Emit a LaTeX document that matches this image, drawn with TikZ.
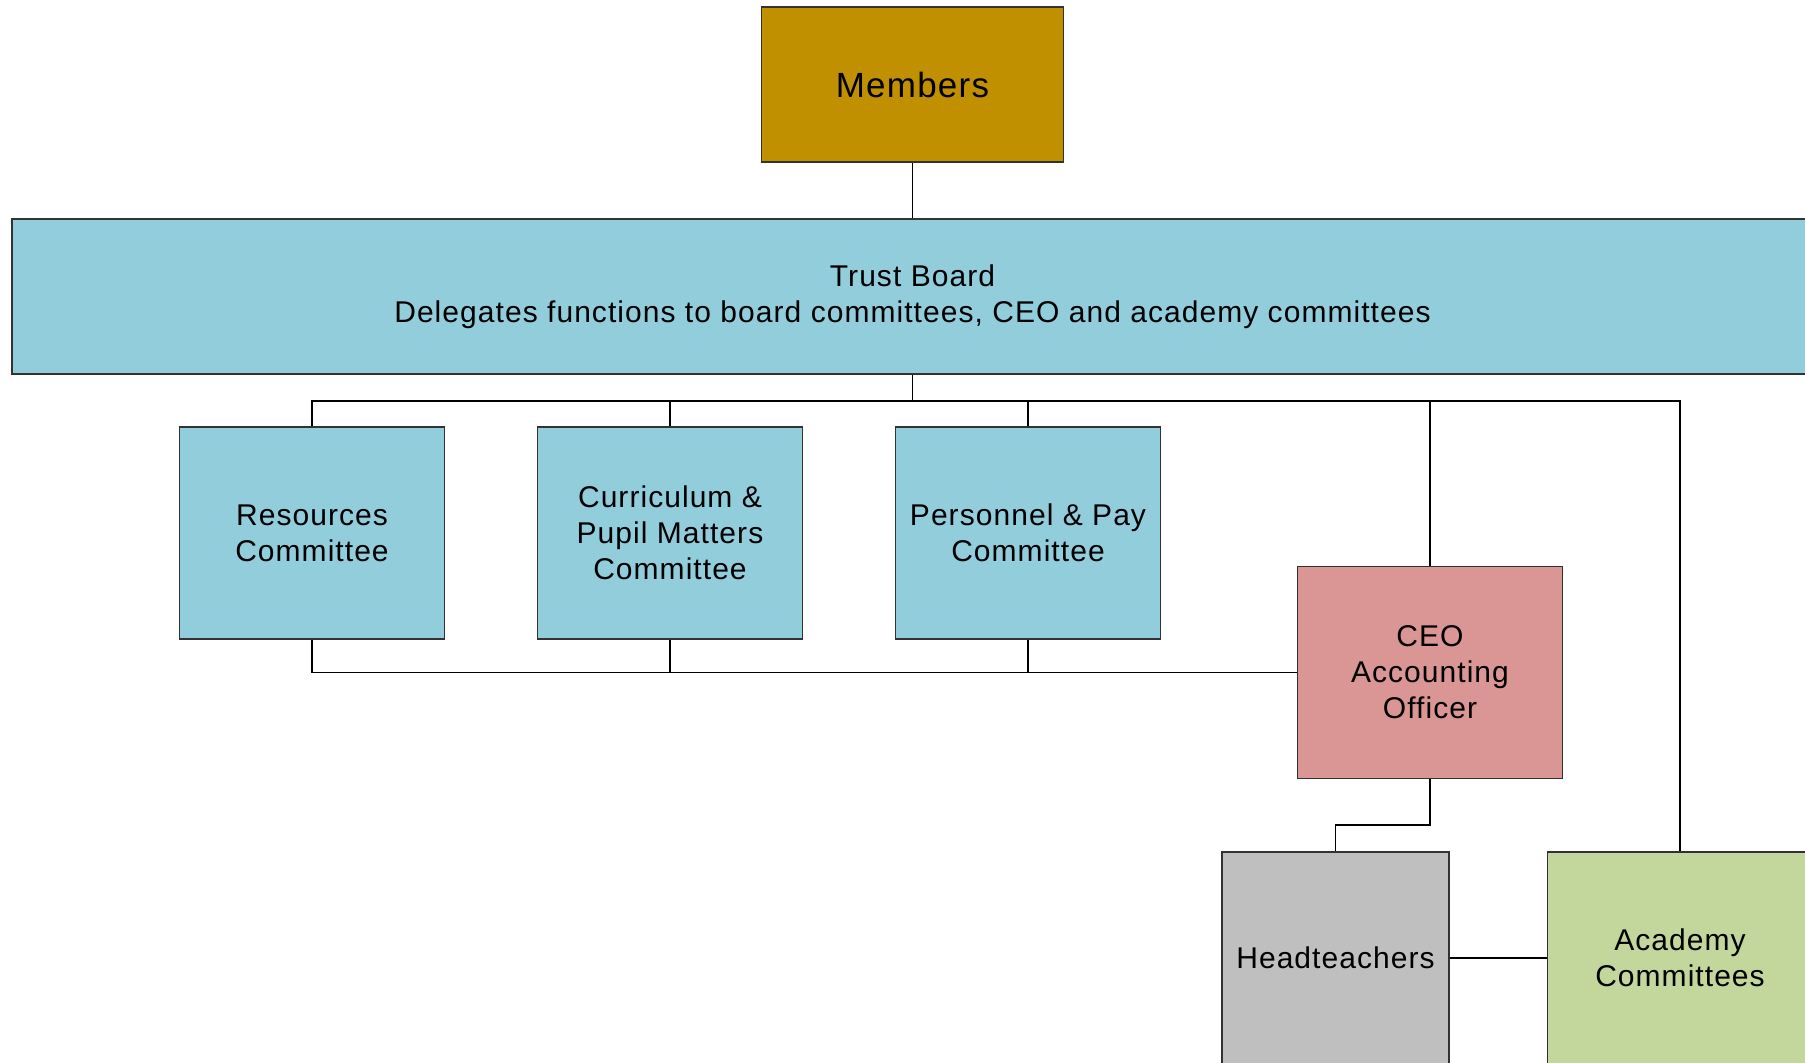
\documentclass[tikz,border=0pt]{standalone}
\usepackage{fontspec}
\setmainfont[LetterSpace=3.5]{Liberation Sans}
\definecolor{membersc}{RGB}{192,144,0}
\definecolor{boardc}{RGB}{146,205,220}
\definecolor{ceoc}{RGB}{217,150,148}
\definecolor{headc}{RGB}{191,191,191}
\definecolor{acadc}{RGB}{195,214,155}
\definecolor{edgec}{RGB}{50,50,50}
\tikzset{
  orgbox/.style={draw=edgec, line width=0.55pt, inner sep=0pt, align=center,
    font=\fontsize{15}{18}\selectfont, text=black},
  cbox/.style={orgbox, minimum width=132.5pt, minimum height=106pt},
  link/.style={draw=black, line width=0.9pt}
}
\begin{document}
\begin{tikzpicture}[x=0.5pt,y=0.5pt]
\useasboundingbox (0,0) rectangle (1805,-1062);
\clip (0,0) rectangle (1805,-1062);
\node[orgbox, fill=membersc, minimum width=151pt, minimum height=77.5pt,
  font=\fontsize{17.5}{21}\selectfont] (members) at (912.5,-84.5) {Members};
\node[orgbox, fill=boardc, minimum width=900.5pt, minimum height=77.5pt] (trust) at (912.5,-296.5)
  {Trust Board\\Delegates functions to board committees, CEO and academy committees};
\node[cbox, fill=boardc] (res) at (312,-533) {Resources\\Committee};
\node[cbox, fill=boardc] (cur) at (670,-533) {Curriculum \&\\Pupil Matters\\Committee};
\node[cbox, fill=boardc] (per) at (1028,-533) {Personnel \& Pay\\Committee};
\node[cbox, fill=ceoc] (ceo) at (1430,-672.5) {CEO\\Accounting\\Officer};
\node[cbox, fill=headc, minimum width=113.5pt] (head) at (1335.5,-958) {Headteachers};
\node[cbox, fill=acadc] (acad) at (1680,-958) {Academy\\Committees};
\coordinate (bus) at (912.5,-400.7);
\coordinate (elbow) at (0,-825);
\draw[link] (members.south) -- (trust.north);
\draw[link] (trust.south) -- (bus);
\draw[link] (res.north) -- (res.north |- bus) -- (acad.north |- bus) -- (acad.north);
\draw[link] (cur.north) -- (cur.north |- bus);
\draw[link] (per.north) -- (per.north |- bus);
\draw[link] (ceo.north) -- (ceo.north |- bus);
\draw[link] (res.south) -- (res.south |- ceo.west) -- (ceo.west);
\draw[link] (cur.south) -- (cur.south |- ceo.west);
\draw[link] (per.south) -- (per.south |- ceo.west);
\draw[link] (ceo.south) -- (ceo.south |- elbow) -| (head.north);
\draw[link] (head.east) -- (acad.west);
\end{tikzpicture}
\end{document}
